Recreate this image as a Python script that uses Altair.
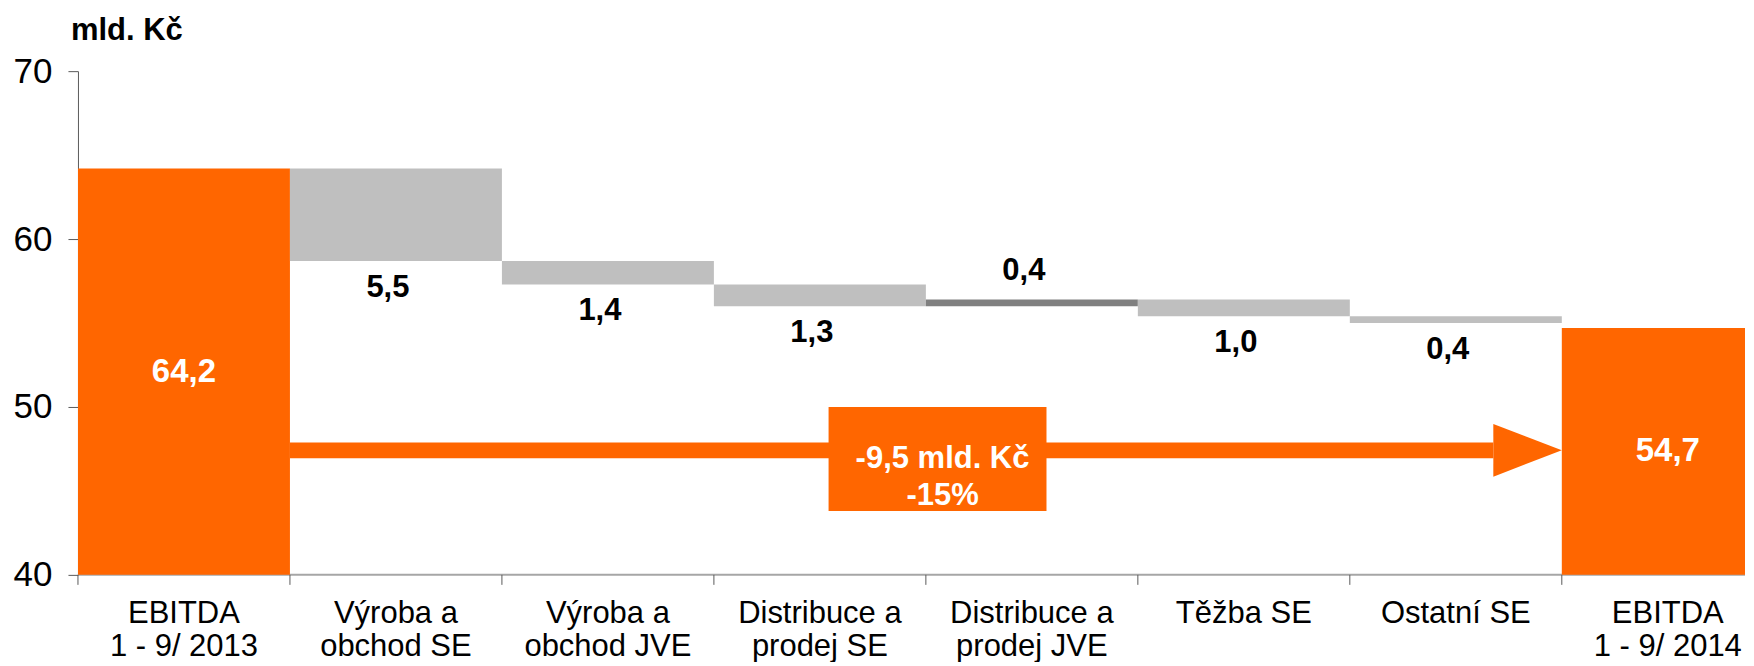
import altair as alt
import pandas as pd

# ---------------- data ----------------
categories = [
    "EBITDA|1 - 9/ 2013",
    "Výroba a|obchod SE",
    "Výroba a|obchod JVE",
    "Distribuce a|prodej SE",
    "Distribuce a|prodej JVE",
    "Těžba SE",
    "Ostatní SE",
    "EBITDA|1 - 9/ 2014",
]
bar_start = [0, 64.2, 58.7, 57.3, 56.0, 56.4, 55.4, 0]
bar_end = [64.2, 58.7, 57.3, 56.0, 56.4, 55.4, 55.0, 54.7]
value_labels = ["64,2", "5,5", "1,4", "1,3", "0,4", "1,0", "0,4", "54,7"]
kinds = ["total", "decrease", "decrease", "decrease", "increase", "decrease", "decrease", "total"]

y_ticks = [40, 50, 60, 70]
unit_title = "mld. Kč"

# summary arrow / box (in category-index units on x, value units on y)
arrow_x = [1.0, 6.677]
arrow_y = [47.89, 46.94]
head_x = [6.677, 7.0]
head_top = [48.99, 47.42]
head_bottom = [45.85, 47.42]
box_x = [3.541, 4.569]
box_y = [50.0, 43.8]
box_text = ["-9,5 mld. Kč", "-15%"]

# ---------------- styling / layout ----------------
ORANGE = "#FF6600"
GRAY = "#BFBFBF"
DARK = "#808080"
AXIS_GRAY = "#A6A6A6"
TICK_GRAY = "#595959"
FONT = "Liberation Sans"
N = len(categories)
BAND_PX = 212.1          # pixel width of one category band
PLOT_W = 1668            # visible plot width (last band is cut by the page edge)
PLOT_H = 504
TICK = 10
Y_DOMAIN = [min(y_ticks), max(y_ticks)]
X_MAX = PLOT_W / BAND_PX

df = pd.DataFrame({
    "idx": list(range(N)),
    "cat": categories,
    "start": bar_start,
    "end": bar_end,
    "label": value_labels,
    "kind": kinds,
})
df["idx2"] = df["idx"] + 1
df["xc"] = df["idx"] + 0.5
df["mid"] = (Y_DOMAIN[0] + df["end"]) / 2

yscale = alt.Scale(domain=Y_DOMAIN, nice=False, zero=False)
xscale = alt.Scale(domain=[0, X_MAX], nice=False, zero=False)

y_axis = alt.Axis(
    title=None,
    values=y_ticks,
    labelFont=FONT,
    labelFontSize=35,
    labelColor="#000000",
    labelPadding=16,
    tickSize=TICK,
    tickColor=TICK_GRAY,
    domainColor=TICK_GRAY,
    grid=False,
)

base = alt.Chart(df)
Xn = alt.X("xc:Q", scale=xscale, axis=None)

bars = base.mark_bar(clip=True).encode(
    x=alt.X("idx:Q", scale=xscale, axis=None),
    x2="idx2:Q",
    y=alt.Y("start:Q", scale=yscale, axis=y_axis),
    y2="end:Q",
    color=alt.Color("kind:N", scale=alt.Scale(domain=["total", "decrease", "increase"],
                                              range=[ORANGE, GRAY, DARK]), legend=None),
)

# category axis: baseline, boundary ticks and two-line labels
x_domain_line = alt.Chart(pd.DataFrame({"a": [0]})).mark_rule(
    color=AXIS_GRAY, strokeWidth=2
).encode(x=alt.value(0), x2=alt.value(PLOT_W), y=alt.value(PLOT_H))

x_ticks = base.mark_rule(color=TICK_GRAY, strokeWidth=1).encode(
    x=alt.X("idx:Q", scale=xscale, axis=None),
    y=alt.value(PLOT_H), y2=alt.value(PLOT_H + TICK),
)

cat_labels = base.mark_text(
    font=FONT, fontSize=31, color="#000000", align="center", baseline="top",
    lineBreak="|", lineHeight=33, dy=24
).encode(x=Xn, y=alt.value(PLOT_H), text="cat:N")

below = base.transform_filter("datum.kind == 'decrease'").mark_text(
    font=FONT, fontSize=31, fontWeight="bold", color="#000000", baseline="middle", dy=27, dx=-8
).encode(x=Xn, y=alt.Y("end:Q", scale=yscale), text="label:N")

above = base.transform_filter("datum.kind == 'increase'").mark_text(
    font=FONT, fontSize=31, fontWeight="bold", color="#000000", baseline="middle", dy=-29, dx=-8
).encode(x=Xn, y=alt.Y("end:Q", scale=yscale), text="label:N")

inside = base.transform_filter("datum.kind == 'total'").mark_text(
    font=FONT, fontSize=33, fontWeight="bold", color="#FFFFFF", baseline="middle"
).encode(x=Xn, y=alt.Y("mid:Q", scale=yscale), text="label:N")

title_mark = alt.Chart(pd.DataFrame({"t": [unit_title]})).mark_text(
    font=FONT, fontSize=31, fontWeight="bold", color="#000000", align="left", baseline="alphabetic"
).encode(x=alt.value(-7), y=alt.value(-31), text="t:N")

arrow_df = pd.DataFrame({"x": [arrow_x[0]], "x2": [arrow_x[1]], "y": [arrow_y[0]], "y2": [arrow_y[1]]})
arrow = alt.Chart(arrow_df).mark_rect(color=ORANGE).encode(
    x=alt.X("x:Q", scale=xscale), x2="x2:Q",
    y=alt.Y("y:Q", scale=yscale), y2="y2:Q",
)

head_df = pd.DataFrame({"x": head_x, "top": head_top, "bottom": head_bottom})
head = alt.Chart(head_df).mark_area(color=ORANGE, opacity=1).encode(
    x=alt.X("x:Q", scale=xscale),
    y=alt.Y("top:Q", scale=yscale), y2="bottom:Q",
)

box_df = pd.DataFrame({"x": [box_x[0]], "x2": [box_x[1]], "y": [box_y[0]], "y2": [box_y[1]],
                       "xc": [sum(box_x) / 2], "yc": [sum(box_y) / 2]})
box = alt.Chart(box_df).mark_rect(color=ORANGE).encode(
    x=alt.X("x:Q", scale=xscale), x2="x2:Q",
    y=alt.Y("y:Q", scale=yscale), y2="y2:Q",
)
box_label = alt.Chart(box_df).mark_text(
    font=FONT, fontSize=31, fontWeight="bold", color="#FFFFFF", baseline="middle",
    align="center", lineHeight=37, dx=5
).encode(
    x=alt.X("xc:Q", scale=xscale),
    y=alt.Y("yc:Q", scale=yscale),
    text=alt.value(box_text),
)

chart = alt.layer(x_domain_line, bars, x_ticks, cat_labels, below, above, inside,
                  arrow, head, box, box_label, title_mark).properties(
    width=PLOT_W,
    height=PLOT_H,
    padding={"left": 5, "top": 7, "right": 0, "bottom": 0},
    background="#FFFFFF",
).configure_view(stroke=None)

chart.save("out.html", embed_options={"renderer": "svg", "actions": False})
